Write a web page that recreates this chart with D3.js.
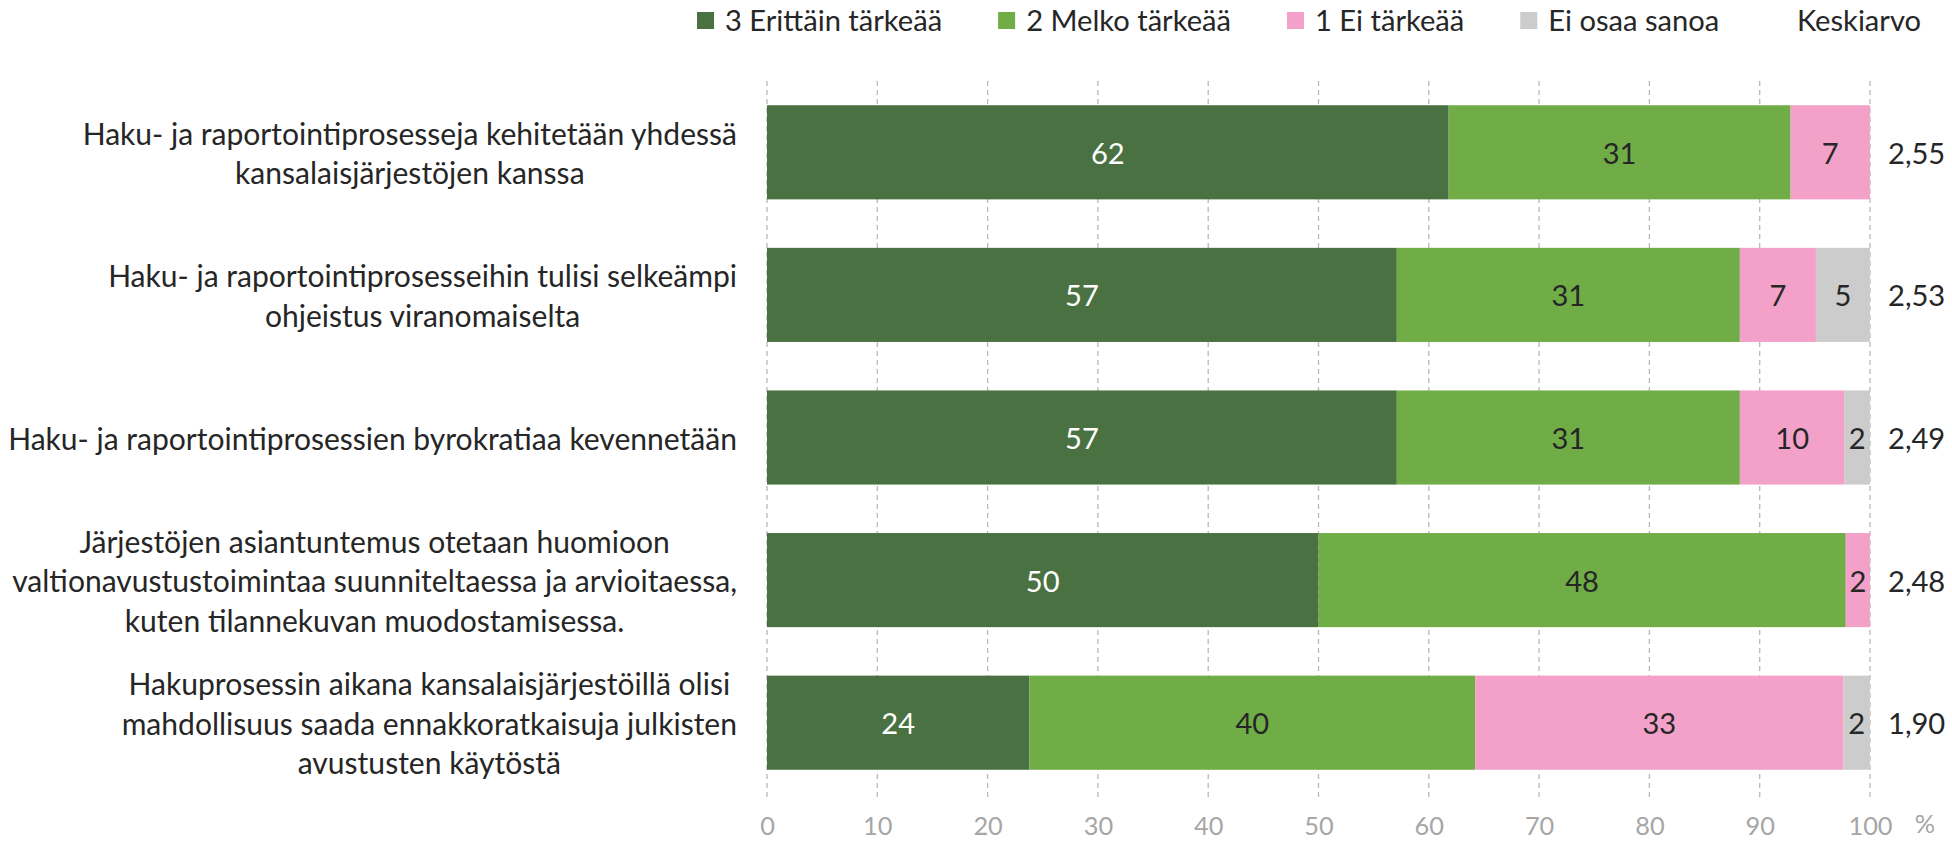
<!DOCTYPE html>
<html>
<head>
<meta charset="utf-8">
<script src="https://cdn.jsdelivr.net/npm/d3@7"></script>
<style>
  body { margin: 0; background: #fff; }
  svg { display: block; }
</style>
</head>
<body>
<div id="chart"></div>
<script>
// data
const categories = [
    ["Haku- ja raportointiprosesseja kehitetään yhdessä", "kansalaisjärjestöjen kanssa"],
    ["Haku- ja raportointiprosesseihin tulisi selkeämpi", "ohjeistus viranomaiselta"],
    ["Haku- ja raportointiprosessien byrokratiaa kevennetään"],
    ["Järjestöjen asiantuntemus otetaan huomioon", "valtionavustustoimintaa suunniteltaessa ja arvioitaessa,", "kuten tilannekuvan muodostamisessa."],
    ["Hakuprosessin aikana kansalaisjärjestöillä olisi", "mahdollisuus saada ennakkoratkaisuja julkisten", "avustusten käytöstä"]
];
const seriesNames = ["3 Erittäin tärkeää", "2 Melko tärkeää", "1 Ei tärkeää", "Ei osaa sanoa"];
const erittainTarkeaa = [61.8, 57.1, 57.1, 50.0, 23.8];
const melkoTarkeaa = [31.0, 31.1, 31.1, 47.8, 40.4];
const eiTarkeaa = [7.2, 6.9, 9.5, 2.2, 33.4];
const eiOsaaSanoa = [0, 4.9, 2.3, 0, 2.4];
const keskiarvo = [2.55, 2.53, 2.49, 2.48, 1.90];
const xTicks = [0, 10, 20, 30, 40, 50, 60, 70, 80, 90, 100];

const colors = ['#4A7141', '#70AD47', '#F4A1C9', '#CCCCCC'];
const labelColors = ['#ffffff', '#262626', '#262626', '#262626'];
const FONT = 'Lato, "Open Sans", sans-serif';

const width = 1952, height = 841;
const svg = d3.select('#chart').append('svg')
    .attr('width', width)
    .attr('height', height);

// fit the substitute font to the width of the longest label line
const probe = svg.append('text')
    .style('font-family', FONT)
    .style('font-size', '100px')
    .text(categories[3][1]);
const probeW = probe.node().getComputedTextLength();
probe.remove();
const k = 725 / probeW * 100 / 32;   // px of substitute font per px of original
const fs = base => (base * k).toFixed(2) + 'px';

const rows = categories.map((c, i) => ({
    idx: i,
    lines: c,
    v: [erittainTarkeaa[i], melkoTarkeaa[i], eiTarkeaa[i], eiOsaaSanoa[i]],
    mean: keskiarvo[i]
}));

const x = d3.scaleLinear().domain([0, 100]).range([767, 1870]);
const y = d3.scaleBand()
    .domain(rows.map(d => d.idx))
    .range([81, 794])
    .paddingInner(0.34)
    .paddingOuter(0.17);

// gridlines
svg.append('g')
    .selectAll('line')
    .data(xTicks)
    .enter()
    .append('line')
    .attr('x1', d => x(d))
    .attr('x2', d => x(d))
    .attr('y1', 81)
    .attr('y2', 797)
    .attr('stroke', '#B8B8B8')
    .attr('stroke-width', 1.3)
    .attr('stroke-dasharray', '5,4');

// stacked bars
const stack = d3.stack()
    .keys([0, 1, 2, 3])
    .value((d, key) => d.v[key]);
const layers = stack(rows);

const layerG = svg.append('g')
    .selectAll('g')
    .data(layers)
    .enter()
    .append('g')
    .attr('fill', (d, i) => colors[i]);

layerG.selectAll('rect')
    .data(d => d)
    .enter()
    .append('rect')
    .attr('x', d => x(d[0]))
    .attr('y', d => y(d.data.idx))
    .attr('width', d => x(d[1]) - x(d[0]))
    .attr('height', y.bandwidth());

layerG.selectAll('text')
    .data((d, i) => d.map(s => ({ s, key: i })).filter(o => o.s[1] - o.s[0] > 0))
    .enter()
    .append('text')
    .text(o => Math.round(o.s[1] - o.s[0]))
    .attr('x', o => (x(o.s[0]) + x(o.s[1])) / 2)
    .attr('y', o => y(o.s.data.idx) + y.bandwidth() / 2)
    .attr('text-anchor', 'middle')
    .attr('dominant-baseline', 'central')
    .style('fill', o => labelColors[o.key])
    .style('font-family', FONT)
    .style('font-size', fs(31));

// category labels: centered lines, block right-aligned
const lineH = 39.5;
rows.forEach(r => {
    const g = svg.append('g');
    const texts = g.selectAll('text')
        .data(r.lines)
        .enter()
        .append('text')
        .text(d => d)
        .attr('text-anchor', 'middle')
        .attr('dominant-baseline', 'central')
        .attr('y', (d, i) => y(r.idx) + y.bandwidth() / 2 + (i - (r.lines.length - 1) / 2) * lineH)
        .style('fill', '#262626')
        .style('font-family', FONT)
        .style('font-size', fs(32));
    const maxW = d3.max(texts.nodes(), n => n.getComputedTextLength());
    texts.attr('x', 737 - maxW / 2);
});

// Keskiarvo values
svg.append('g')
    .selectAll('text')
    .data(rows)
    .enter()
    .append('text')
    .text(d => d3.format('.2f')(d.mean).replace('.', ','))
    .attr('x', 1888)
    .attr('y', d => y(d.idx) + y.bandwidth() / 2)
    .attr('dominant-baseline', 'central')
    .style('fill', '#262626')
    .style('font-family', FONT)
    .style('font-size', fs(31));

// x axis labels
const axis = d3.axisBottom(x).tickValues(xTicks).tickSize(0).tickPadding(0);
const axisG = svg.append('g')
    .attr('transform', 'translate(0,825)')
    .call(axis);
axisG.select('.domain').remove();
axisG.selectAll('text')
    .attr('dy', null)
    .attr('dominant-baseline', 'central')
    .style('fill', '#A6A6A6')
    .style('font-family', FONT)
    .style('font-size', fs(27));

svg.append('text')
    .text('%')
    .attr('x', 1925)
    .attr('y', 823)
    .attr('text-anchor', 'middle')
    .attr('dominant-baseline', 'central')
    .style('fill', '#A6A6A6')
    .style('font-family', FONT)
    .style('font-size', fs(27));

// legend
const legendY = 19;
let lx = 697;
seriesNames.forEach((name, i) => {
    svg.append('rect')
        .attr('x', lx)
        .attr('y', legendY - 7)
        .attr('width', 17)
        .attr('height', 17)
        .attr('fill', colors[i]);
    const t = svg.append('text')
        .text(name)
        .attr('x', lx + 28)
        .attr('y', legendY)
        .attr('dominant-baseline', 'central')
        .style('fill', '#262626')
        .style('font-family', FONT)
        .style('font-size', fs(31));
    lx += 28 + t.node().getComputedTextLength() + 56;
});

svg.append('text')
    .text('Keskiarvo')
    .attr('x', 1859)
    .attr('y', legendY)
    .attr('text-anchor', 'middle')
    .attr('dominant-baseline', 'central')
    .style('fill', '#262626')
    .style('font-family', FONT)
    .style('font-size', fs(31));
</script>
</body>
</html>
